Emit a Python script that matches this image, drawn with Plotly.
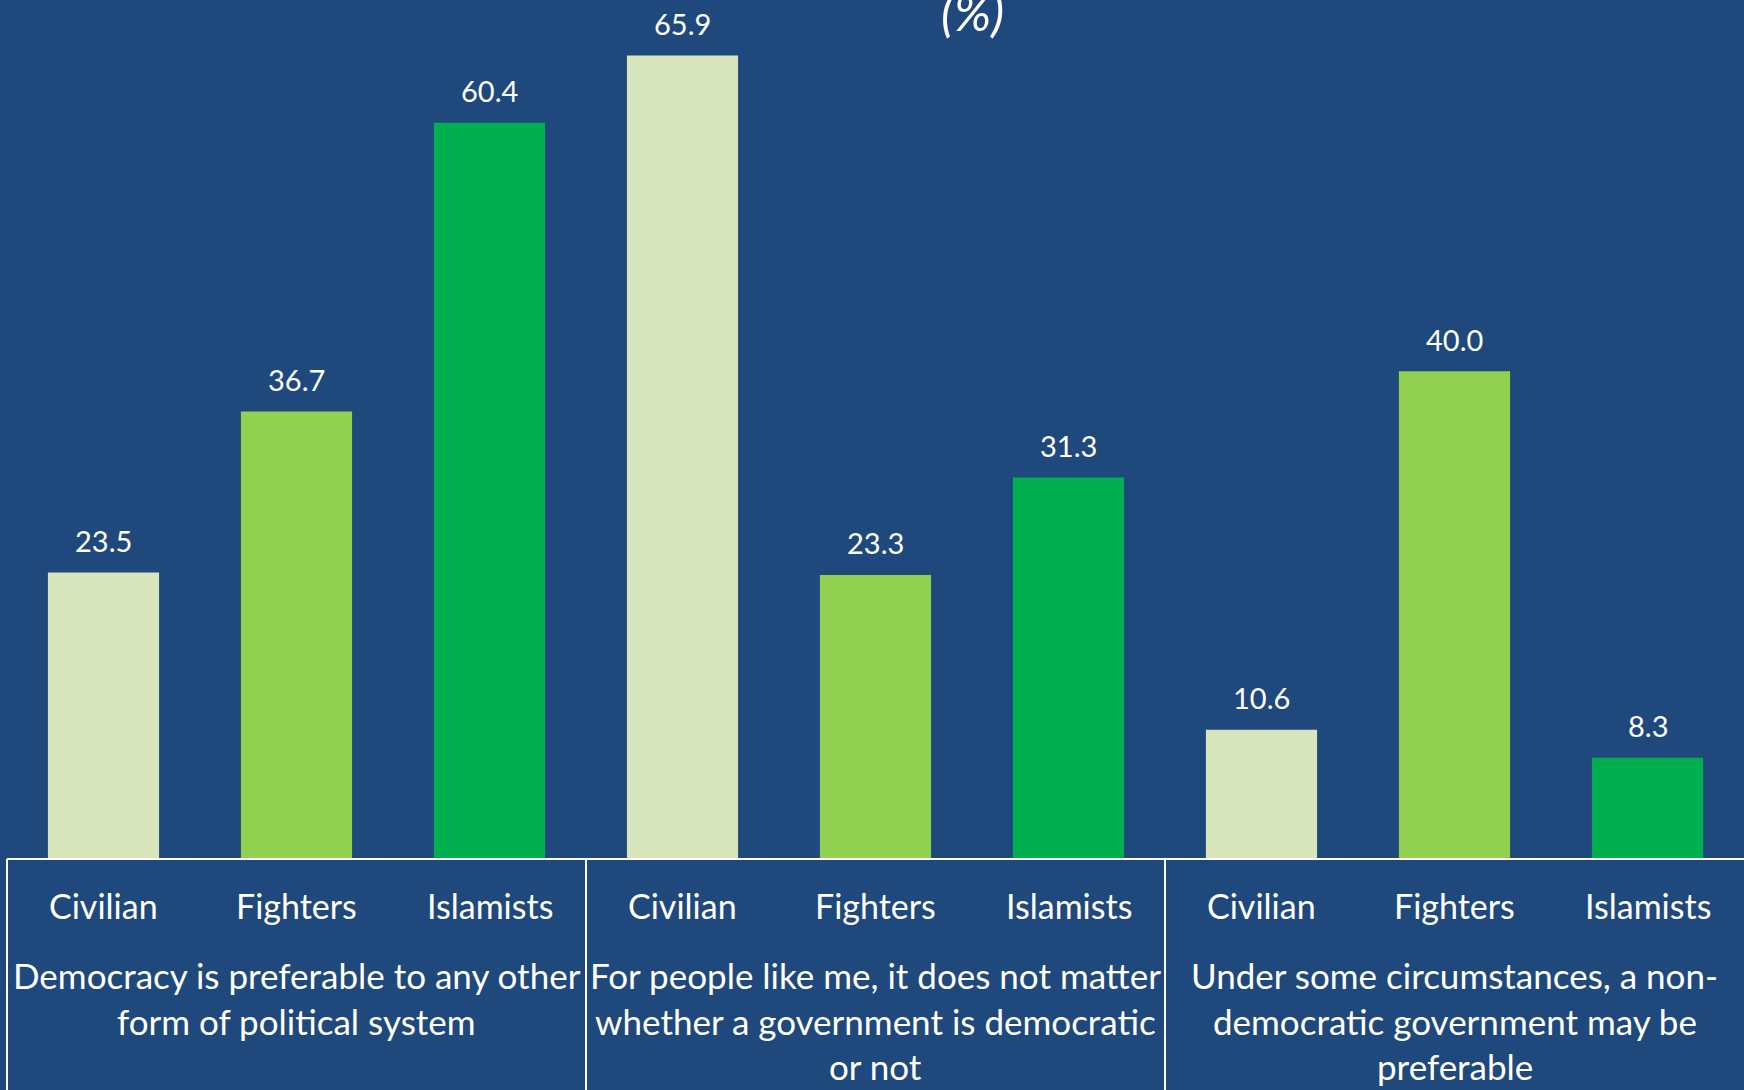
import plotly.graph_objects as go

# ---- data ----
categories = ["Civilian", "Fighters", "Islamists"]
group_lines = [
    ["Democracy is preferable to any other", "form of political system"],
    ["For people like me, it does not matter", "whether a government is democratic", "or not"],
    ["Under some circumstances, a non-", "democratic government may be", "preferable"],
]
civilian = [23.5, 65.9, 10.6]
fighters = [36.7, 23.3, 40.0]
islamists = [60.4, 31.3, 8.3]
series_values = [civilian, fighters, islamists]
series_colors = ["#D8E4BC", "#92D050", "#00B050"]
title_text = "(%)"

BG = "#1F497D"
FONT = "Lato"
W, H = 1744, 1090
ML, MB = 7, 231
plot_h = H - MB

n_groups = len(group_lines)
n_cat = len(categories)
n_slots = n_groups * n_cat

fig = go.Figure()
annotations = []
for ci, (cat, vals, col) in enumerate(zip(categories, series_values, series_colors)):
    xs = [g * n_cat + ci for g in range(n_groups)]
    fig.add_trace(go.Bar(x=xs, y=vals, name=cat, marker=dict(color=col, line=dict(width=0)),
                         width=0.576, showlegend=False, hoverinfo="skip"))
    for x, v in zip(xs, vals):
        annotations.append(dict(x=x, y=v, xref="x", yref="y", text=f"{v:.1f}", showarrow=False,
                                yanchor="middle", yshift=32,
                                font=dict(family=FONT, size=29, color="white")))
        annotations.append(dict(x=x, y=0, xref="x", yref="paper", text=cat, showarrow=False,
                                yanchor="middle", yshift=-46,
                                font=dict(family=FONT, size=34, color="white")))

line_gap = 45.6
for g, lines in enumerate(group_lines):
    xc = g * n_cat + (n_cat - 1) / 2
    for li, txt in enumerate(lines):
        annotations.append(dict(x=xc, y=0, xref="x", yref="paper", text=txt, showarrow=False,
                                yanchor="middle", yshift=-116 - li * line_gap,
                                font=dict(family=FONT, size=35, color="white")))

annotations.append(dict(x=(972.5 - ML) / (W - ML), y=1, xref="paper", yref="paper",
                        text=f"<i>{title_text}</i>", showarrow=False, yanchor="middle",
                        yshift=-12, xanchor="center",
                        font=dict(family=FONT, size=50, color="white")))

shapes = [dict(type="line", xref="paper", yref="paper", x0=0, x1=1, y0=0, y1=0,
               line=dict(color="white", width=2))]
for g in range(n_groups):
    xp = g * n_cat / n_slots
    shapes.append(dict(type="line", xref="paper", yref="paper", x0=xp, x1=xp, y0=0, y1=-MB / plot_h,
                       line=dict(color="white", width=2)))

fig.update_layout(
    width=W, height=H,
    margin=dict(l=ML, r=0, t=0, b=MB),
    paper_bgcolor=BG, plot_bgcolor=BG,
    barmode="overlay",
    xaxis=dict(range=[-0.5, n_slots - 0.5], showticklabels=False, showgrid=False, zeroline=False,
               showline=False, ticks=""),
    yaxis=dict(range=[0, 70.46], showticklabels=False, showgrid=False, zeroline=False,
               showline=False, ticks=""),
    annotations=annotations,
    shapes=shapes,
    font=dict(family=FONT, color="white"),
)

fig.write_html(
    "out.html",
    config={"displayModeBar": False},
    post_script="document.body.style.margin='0';document.body.style.padding='0';"
                "document.body.style.overflow='hidden';document.body.style.background='" + BG + "';",
)
